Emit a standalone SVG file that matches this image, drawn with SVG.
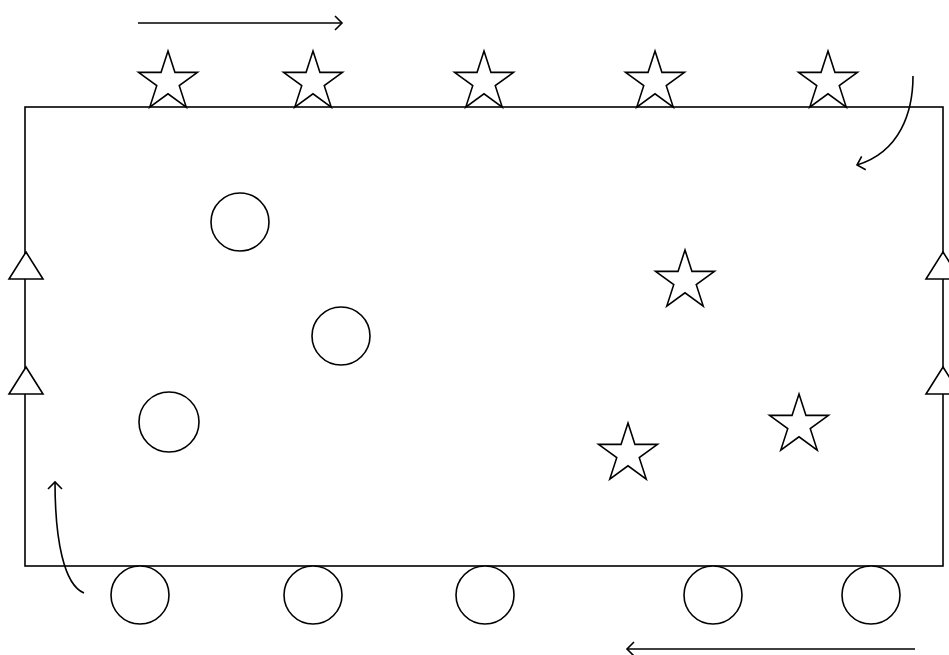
<svg xmlns="http://www.w3.org/2000/svg" xmlns:xlink="http://www.w3.org/1999/xlink" width="949" height="655" viewBox="0 0 949 655">
<style>
.s{fill:#fff;stroke:#000;stroke-width:1.6}
.c{fill:none;stroke:#000;stroke-width:1.6}
</style>
<defs>
<path id="star" d="M0,-31 L6.96,-9.58 L29.48,-9.58 L11.26,3.66 L18.22,25.08 L0,11.84 L-18.22,25.08 L-11.26,3.66 L-29.48,-9.58 L-6.96,-9.58 Z"/>
<path id="tri" d="M0,0 L17,27 L-17,27 Z"/>
<marker id="ah" markerUnits="userSpaceOnUse" markerWidth="20" markerHeight="20" viewBox="-10 -10 20 20" refX="0" refY="0" orient="auto">
<path d="M-7,-7 L0,0 L-7,7" fill="none" stroke="#000" stroke-width="1.6"/>
</marker>
</defs>
<rect width="949" height="655" fill="#fff"/>
<g id="frame">
<rect x="25" y="107" width="918" height="459" class="c"/>
</g>
<g id="connectors">
<line x1="138" y1="23" x2="342" y2="23" class="c" marker-end="url(#ah)"/>
<line x1="915" y1="649" x2="627" y2="649" class="c" marker-end="url(#ah)"/>
<path d="M913,76 C913,112 900,152 857,165" class="c" marker-end="url(#ah)"/>
<path d="M84,593 C64,585 55,540 55,482" class="c" marker-end="url(#ah)"/>
</g>
<g id="top-stars">
<use id="ts1" xlink:href="#star" class="s" x="168" y="82"/>
<use id="ts2" xlink:href="#star" class="s" x="313" y="82"/>
<use id="ts3" xlink:href="#star" class="s" x="484" y="82"/>
<use id="ts4" xlink:href="#star" class="s" x="655" y="82"/>
<use id="ts5" xlink:href="#star" class="s" x="828" y="82"/>
</g>
<g id="inner-stars">
<use id="is1" xlink:href="#star" class="s" x="685" y="281"/>
<use id="is2" xlink:href="#star" class="s" x="628" y="454"/>
<use id="is3" xlink:href="#star" class="s" x="799" y="425"/>
</g>
<g id="inner-circles">
<circle id="ic1" cx="240" cy="222" r="29" class="s"/>
<circle id="ic2" cx="341" cy="336" r="29" class="s"/>
<circle id="ic3" cx="169" cy="422" r="30" class="s"/>
</g>
<g id="bottom-circles">
<circle id="bc1" cx="140" cy="595" r="29" class="s"/>
<circle id="bc2" cx="313" cy="595" r="29" class="s"/>
<circle id="bc3" cx="485" cy="595" r="29" class="s"/>
<circle id="bc4" cx="713" cy="595" r="29" class="s"/>
<circle id="bc5" cx="871" cy="595" r="29" class="s"/>
</g>
<g id="left-triangles">
<use id="lt1" xlink:href="#tri" class="s" x="26" y="252"/>
<use id="lt2" xlink:href="#tri" class="s" x="26" y="367"/>
</g>
<g id="right-triangles">
<use id="rt1" xlink:href="#tri" class="s" x="943" y="252"/>
<use id="rt2" xlink:href="#tri" class="s" x="943" y="367"/>
</g>
</svg>
